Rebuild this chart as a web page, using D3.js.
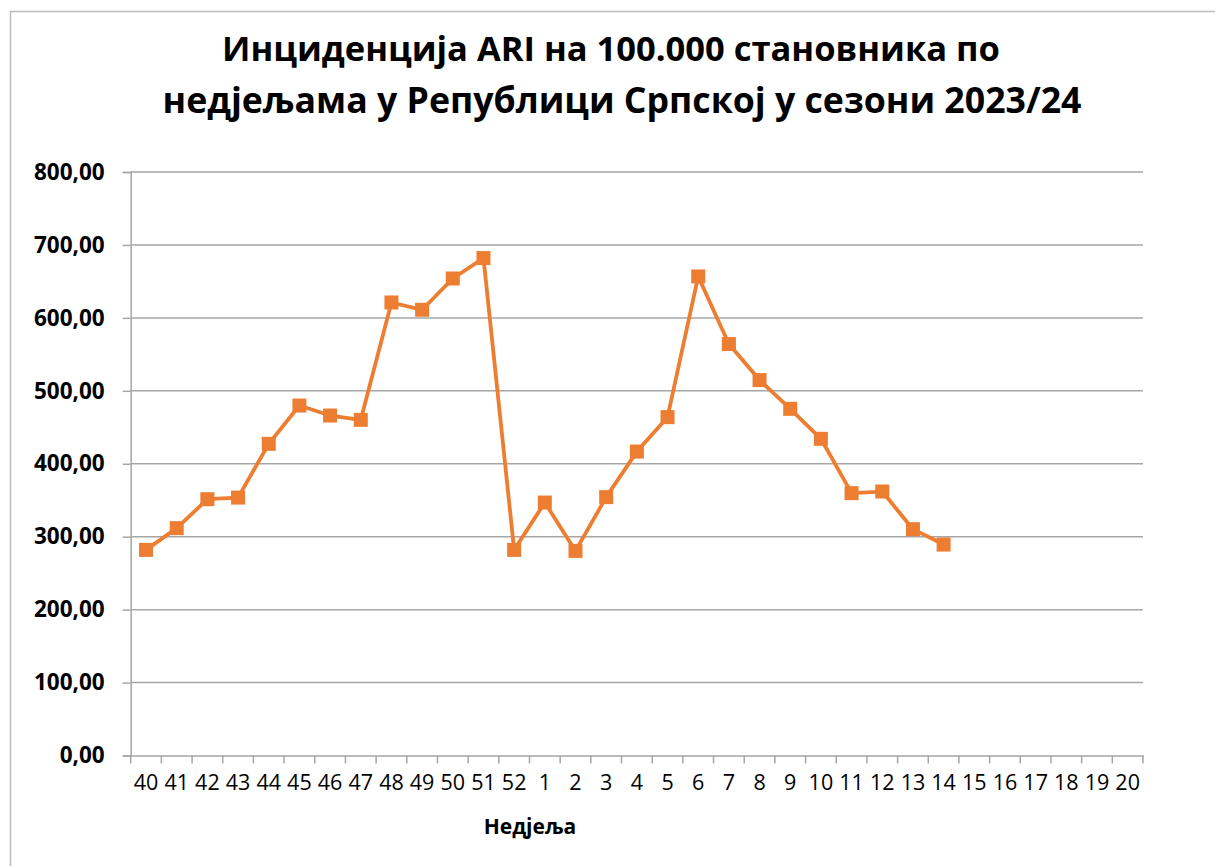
<!DOCTYPE html>
<html><head><meta charset="utf-8">
<script src="https://cdn.jsdelivr.net/npm/d3@7"></script>
<style>
html,body{margin:0;padding:0;background:#fff;}
text{font-family:"Open Sans","Noto Sans",sans-serif;fill:#000;}
</style></head>
<body>
<svg id="c" width="1215" height="866"></svg>
<script>
const weeks = ["40","41","42","43","44","45","46","47","48","49","50","51","52","1","2","3","4","5","6","7","8","9","10","11","12","13","14","15","16","17","18","19","20"];
const incidence = [281.9,311.7,351.4,353.6,427.3,479.8,466.1,460.2,621.1,611.1,654.0,682.0,281.9,346.8,280.5,354.2,416.7,463.9,656.8,564.1,514.7,475.3,434.2,359.7,361.9,310.3,289.2,null,null,null,null,null,null];
const yTicks = [0,100,200,300,400,500,600,700,800];
const titleLines = ["Инциденција ARI на 100.000 становника по","недјељама у Републици Српској у сезони 2023/24"];
const xTitle = "Недјеља";

const svg = d3.select("#c");
svg.append("rect").attr("x",0).attr("y",0).attr("width",1215).attr("height",866).attr("fill","#fff");
svg.append("rect").attr("x",10.5).attr("y",11.5).attr("width",1250).attr("height",900)
  .attr("fill","none").attr("stroke","#bcbcbc").attr("stroke-width",1.5);

const L=130.7, R=1143, T=172, B=755.5;
const x = d3.scaleBand().domain(weeks).range([L,R]).paddingInner(0).paddingOuter(0);
const y = d3.scaleLinear().domain([0,800]).range([B,T]);
const grid="#a6a6a6";

// gridlines
svg.append("g").selectAll("line").data(yTicks.filter(d=>d>0)).join("line")
  .attr("x1",L).attr("x2",R).attr("y1",d=>y(d)).attr("y2",d=>y(d))
  .attr("stroke",grid).attr("stroke-width",1.5);

// y axis
const yAxis = d3.axisLeft(y).tickValues(yTicks).tickSize(8).tickPadding(18)
  .tickFormat(d=>d3.format(".2f")(d).replace(".",","));
const gy = svg.append("g").attr("transform",`translate(${L},0)`).call(yAxis);
gy.select(".domain").attr("stroke",grid).attr("stroke-width",1.5);
gy.selectAll(".tick line").attr("stroke",grid).attr("stroke-width",1.5);
gy.selectAll(".tick text").attr("font-family","'Open Sans',sans-serif").attr("font-size",22.5)
  .attr("font-weight","bold").attr("fill","#000");

// x axis
const xAxis = d3.axisBottom(x).tickSize(0).tickPadding(19);
const gx = svg.append("g").attr("transform",`translate(0,${B})`).call(xAxis);
gx.select(".domain").attr("stroke",grid).attr("stroke-width",1.5);
gx.selectAll(".tick text").attr("font-family","'Open Sans',sans-serif").attr("font-size",21.5).attr("fill","#000");
// category boundary ticks
const bounds = weeks.map(w=>x(w)).concat([R]);
gx.append("g").selectAll("line").data(bounds).join("line")
  .attr("x1",d=>d).attr("x2",d=>d).attr("y1",0).attr("y2",8)
  .attr("stroke",grid).attr("stroke-width",1.5);

// line
const pts = weeks.map((w,i)=>({w,v:incidence[i]})).filter(d=>d.v!=null);
const cx = d=>x(d.w)+x.bandwidth()/2;
svg.append("path").datum(pts)
  .attr("d",d3.line().x(cx).y(d=>y(d.v)))
  .attr("fill","none").attr("stroke","#ED7D31").attr("stroke-width",3.8).attr("stroke-linejoin","round");
const ms=14;
svg.append("g").selectAll("rect").data(pts).join("rect")
  .attr("x",d=>cx(d)-ms/2).attr("y",d=>y(d.v)-ms/2).attr("width",ms).attr("height",ms)
  .attr("fill","#ED7D31");

// titles
const tTargets=[{w:778,cx:611,y:61},{w:919,cx:622,y:113}];
titleLines.forEach((t,i)=>{
  const el = svg.append("text").attr("x",tTargets[i].cx).attr("y",tTargets[i].y)
    .attr("text-anchor","middle").attr("font-weight","bold").attr("font-size",34).text(t);
  const w = el.node().getComputedTextLength();
  el.attr("font-size",34*tTargets[i].w/w);
});
svg.append("text").attr("x",530).attr("y",834).attr("text-anchor","middle")
  .attr("font-weight","bold").attr("font-size",21).text(xTitle);
</script>
</body></html>
